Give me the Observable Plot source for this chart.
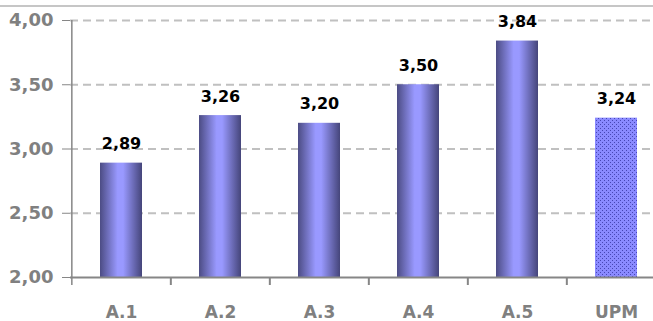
<!DOCTYPE html>
<html>
<head>
<meta charset="utf-8">
<script src="https://cdn.jsdelivr.net/npm/d3@7"></script>
<script src="https://cdn.jsdelivr.net/npm/@observablehq/plot@0.6"></script>
<style>
  html, body { margin: 0; padding: 0; background: #fff; }
  #wrap { position: relative; width: 653px; height: 321px; overflow: hidden; }
  #topline { position: absolute; left: 0; top: 5px; width: 653px; height: 2px; background: #c6c6c6; }
  svg { display: block; }
</style>
</head>
<body>
<div id="wrap"><div id="topline"></div></div>
<script>
const categories = ["A.1", "A.2", "A.3", "A.4", "A.5", "UPM"];
const values = [2.89, 3.26, 3.20, 3.50, 3.84, 3.24];
const yTicks = [2.0, 2.5, 3.0, 3.5, 4.0];
const gridValues = [2.5, 3.0, 3.5, 4.0];

const data = categories.map((c, i) => ({cat: c, value: values[i]}));
const fmt = v => v.toFixed(2).replace(".", ",");

const W = 653, H = 321;
const left = 70, xEnd = 666; // plot continues beyond right edge (clipped)
const step = (xEnd - left) / categories.length;
const font = "'DejaVu Sans', sans-serif";
const gray = "#808080";

const chart = Plot.plot({
  width: W,
  height: H,
  marginLeft: left,
  marginRight: 0,
  marginTop: 20,
  marginBottom: 44,
  style: {fontFamily: font, background: "transparent", overflow: "visible"},
  x: {domain: categories, range: [left, xEnd], paddingInner: 0.58, paddingOuter: 0.29, label: null},
  y: {domain: [2, 4], label: null},
  marks: [
    Plot.ruleY(gridValues, {stroke: "#c0c0c0", strokeWidth: 2, strokeDasharray: "8,5"}),
    Plot.barY(data.filter(d => d.cat !== "UPM"), {x: "cat", y1: 2, y2: "value", fill: "url(#barGrad)"}),
    Plot.barY(data.filter(d => d.cat === "UPM"), {x: "cat", y1: 2, y2: "value", fill: "url(#dotPat)"}),
    Plot.ruleY([2], {stroke: "#868686", strokeWidth: 2}),
    // y axis line (at the left boundary of the first category) extended below axis
    Plot.ruleX([categories[0]], {x: d => d, dx: -step / 2, y1: 4, y2: 2, insetBottom: -8, stroke: "#868686", strokeWidth: 1.5}),
    // category boundary ticks
    Plot.ruleX(categories.slice(1), {x: d => d, dx: -step / 2, y1: 2, y2: 2, insetBottom: -8, stroke: "#868686", strokeWidth: 2}),
    Plot.axisY({ticks: yTicks, tickFormat: fmt, tickSize: 8, tickPadding: 9, stroke: "#868686",
      fill: gray, fontSize: 18, fontWeight: "bold", label: null}),
    Plot.axisX({tickSize: 0, tickPadding: 28, fill: gray, fontSize: 17, fontWeight: "bold", label: null}),
    Plot.text(data, {x: "cat", y: "value", text: d => fmt(d.value), dy: -14, lineAnchor: "bottom",
      fill: "#000", fontSize: 16, fontWeight: "bold"})
  ]
});

const defs = d3.select(chart).insert("defs", ":first-child");
const g = defs.append("linearGradient").attr("id", "barGrad").attr("x1", "0").attr("x2", "1").attr("y1", "0").attr("y2", "0");
[["0%", "#4c4c84"], ["42%", "#9999ff"], ["55%", "#9999ff"], ["100%", "#45457a"]].forEach(([o, c]) =>
  g.append("stop").attr("offset", o).attr("stop-color", c));
const p = defs.append("pattern").attr("id", "dotPat").attr("patternUnits", "userSpaceOnUse")
  .attr("width", 4).attr("height", 4);
p.append("rect").attr("width", 4).attr("height", 4).attr("fill", "#8a8aff");
p.append("rect").attr("x", 0).attr("y", 0).attr("width", 1).attr("height", 1).attr("fill", "#4646b4");
p.append("rect").attr("x", 2).attr("y", 2).attr("width", 1).attr("height", 1).attr("fill", "#4646b4");

document.getElementById("wrap").appendChild(chart);
</script>
</body>
</html>
